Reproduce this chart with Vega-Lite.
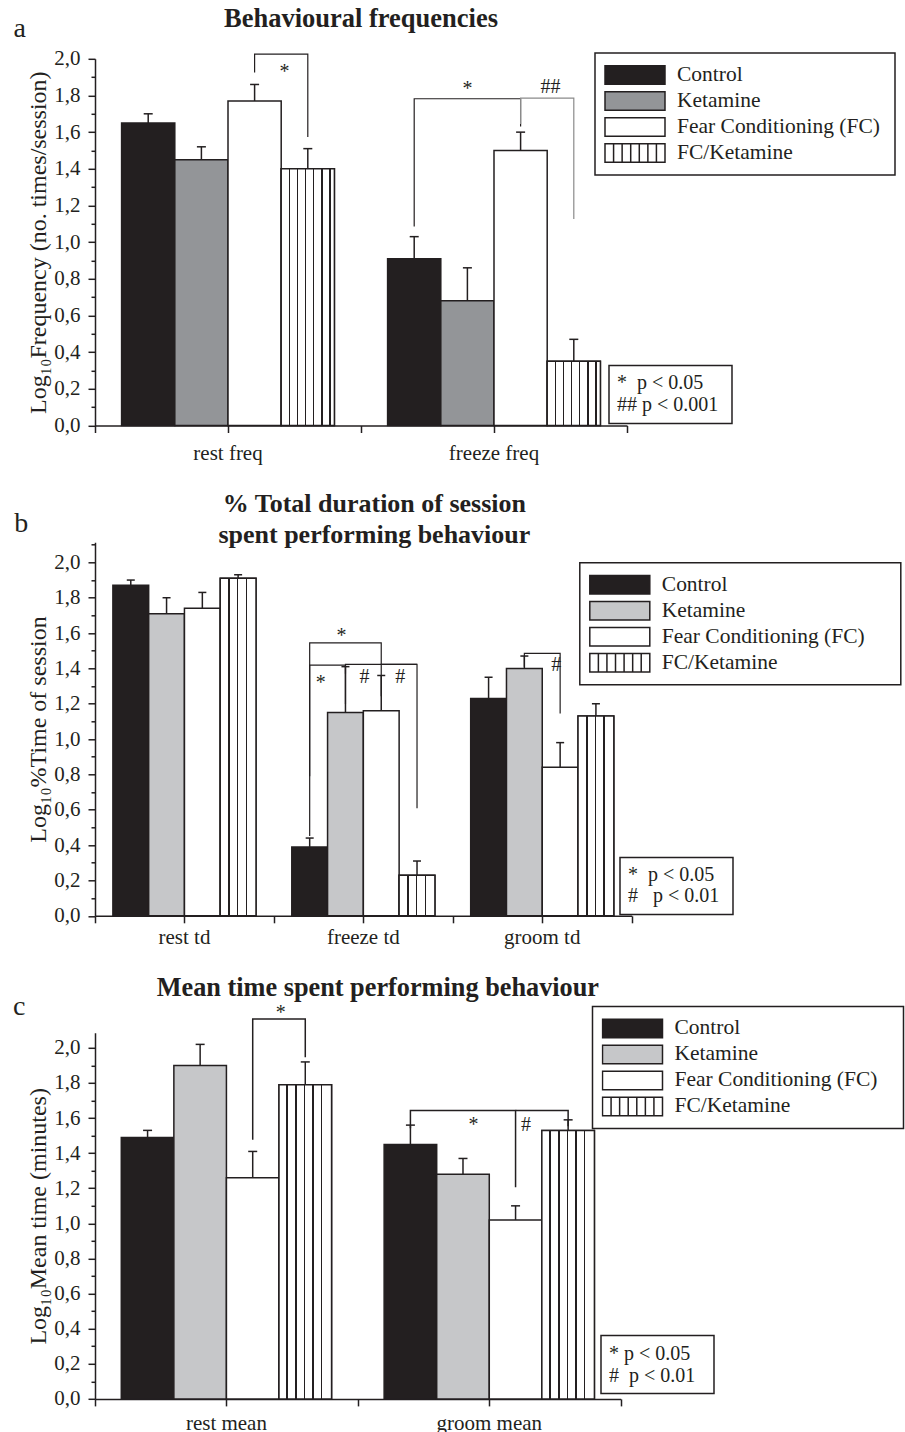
{
  "$schema": "https://vega.github.io/schema/vega-lite/v6.json",
  "background": "white",
  "padding": {"left": 12, "top": 5.8, "right": 0, "bottom": 0},
  "autosize": {"type": "pad"},
  "spacing": 116.5,
  "bounds": "flush",
  "config": {
    "font": "Liberation Serif",
    "view": {"stroke": null},
    "axis": {"grid": false, "domainColor": "#231f20", "domainWidth": 1.5, "tickColor": "#231f20", "tickWidth": 1.5, "labelFont": "Liberation Serif", "labelFontSize": 21, "labelColor": "#231f20", "titleFont": "Liberation Serif", "titleFontSize": 24, "titleFontWeight": "normal", "titleColor": "#231f20"},
    "legend": {"labelFont": "Liberation Serif", "labelColor": "#231f20", "strokeColor": "#231f20", "fillColor": "white", "direction": "vertical", "orient": "none", "labelLimit": 400},
    "title": {"font": "Liberation Serif", "fontWeight": "bold", "color": "#231f20", "anchor": "middle", "frame": "group"}
  },
  "datasets": {
    "barsA": [
      {"cat": "rest freq", "grp": "Control", "v": 1.65, "hi": 1.70},
      {"cat": "rest freq", "grp": "Ketamine", "v": 1.45, "hi": 1.52},
      {"cat": "rest freq", "grp": "Fear Conditioning (FC)", "v": 1.77, "hi": 1.86},
      {"cat": "rest freq", "grp": "FC/Ketamine", "v": 1.40, "hi": 1.51},
      {"cat": "freeze freq", "grp": "Control", "v": 0.91, "hi": 1.03},
      {"cat": "freeze freq", "grp": "Ketamine", "v": 0.68, "hi": 0.86},
      {"cat": "freeze freq", "grp": "Fear Conditioning (FC)", "v": 1.50, "hi": 1.60},
      {"cat": "freeze freq", "grp": "FC/Ketamine", "v": 0.35, "hi": 0.47}
    ],
    "barsB": [
      {"cat": "rest td", "grp": "Control", "v": 1.87, "hi": 1.90},
      {"cat": "rest td", "grp": "Ketamine", "v": 1.71, "hi": 1.80},
      {"cat": "rest td", "grp": "Fear Conditioning (FC)", "v": 1.74, "hi": 1.83},
      {"cat": "rest td", "grp": "FC/Ketamine", "v": 1.91, "hi": 1.93},
      {"cat": "freeze td", "grp": "Control", "v": 0.39, "hi": 0.44},
      {"cat": "freeze td", "grp": "Ketamine", "v": 1.15, "hi": 1.41},
      {"cat": "freeze td", "grp": "Fear Conditioning (FC)", "v": 1.16, "hi": 1.36},
      {"cat": "freeze td", "grp": "FC/Ketamine", "v": 0.23, "hi": 0.31},
      {"cat": "groom td", "grp": "Control", "v": 1.23, "hi": 1.35},
      {"cat": "groom td", "grp": "Ketamine", "v": 1.40, "hi": 1.47},
      {"cat": "groom td", "grp": "Fear Conditioning (FC)", "v": 0.84, "hi": 0.98},
      {"cat": "groom td", "grp": "FC/Ketamine", "v": 1.13, "hi": 1.20}
    ],
    "barsC": [
      {"cat": "rest mean", "grp": "Control", "v": 1.49, "hi": 1.53},
      {"cat": "rest mean", "grp": "Ketamine", "v": 1.90, "hi": 2.02},
      {"cat": "rest mean", "grp": "Fear Conditioning (FC)", "v": 1.26, "hi": 1.41},
      {"cat": "rest mean", "grp": "FC/Ketamine", "v": 1.79, "hi": 1.92},
      {"cat": "groom mean", "grp": "Control", "v": 1.45, "hi": 1.56},
      {"cat": "groom mean", "grp": "Ketamine", "v": 1.28, "hi": 1.37},
      {"cat": "groom mean", "grp": "Fear Conditioning (FC)", "v": 1.02, "hi": 1.10},
      {"cat": "groom mean", "grp": "FC/Ketamine", "v": 1.53, "hi": 1.59}
    ],
    "brA": [
      {"id": "A1", "s": 1, "cat": "rest freq", "grp": "Fear Conditioning (FC)", "y": 1.925, "sig": "*"},
      {"id": "A1", "s": 2, "cat": "rest freq", "grp": "Fear Conditioning (FC)", "y": 2.026, "sig": "*"},
      {"id": "A1", "s": 3, "cat": "rest freq", "grp": "FC/Ketamine", "y": 2.026, "sig": "*"},
      {"id": "A1", "s": 4, "cat": "rest freq", "grp": "FC/Ketamine", "y": 1.573, "sig": "*"},
      {"id": "A2", "s": 1, "cat": "freeze freq", "grp": "Control", "y": 1.085, "sig": "*"},
      {"id": "A2", "s": 2, "cat": "freeze freq", "grp": "Control", "y": 1.782, "sig": "*"},
      {"id": "A2", "s": 3, "cat": "freeze freq", "grp": "Fear Conditioning (FC)", "y": 1.782, "sig": "*"},
      {"id": "A2", "s": 4, "cat": "freeze freq", "grp": "Fear Conditioning (FC)", "y": 1.631, "sig": "*"},
      {"id": "A3", "s": 1, "cat": "freeze freq", "grp": "Fear Conditioning (FC)", "y": 1.645, "sig": "##"},
      {"id": "A3", "s": 2, "cat": "freeze freq", "grp": "Fear Conditioning (FC)", "y": 1.786, "sig": "##"},
      {"id": "A3", "s": 3, "cat": "freeze freq", "grp": "FC/Ketamine", "y": 1.786, "sig": "##"},
      {"id": "A3", "s": 4, "cat": "freeze freq", "grp": "FC/Ketamine", "y": 1.126, "sig": "##"}
    ],
    "brB": [
      {"id": "B1", "s": 1, "cat": "freeze td", "grp": "Control", "y": 0.79, "sig": "*"},
      {"id": "B1", "s": 2, "cat": "freeze td", "grp": "Control", "y": 1.545, "sig": "*"},
      {"id": "B1", "s": 3, "cat": "freeze td", "grp": "Fear Conditioning (FC)", "y": 1.545, "sig": "*"},
      {"id": "B1", "s": 4, "cat": "freeze td", "grp": "Fear Conditioning (FC)", "y": 1.419, "sig": "*"},
      {"id": "B2", "s": 1, "cat": "freeze td", "grp": "Control", "y": 0.451, "sig": "*"},
      {"id": "B2", "s": 2, "cat": "freeze td", "grp": "Control", "y": 1.419, "sig": "*"},
      {"id": "B2", "s": 3, "cat": "freeze td", "grp": "Ketamine", "y": 1.419, "sig": "*"},
      {"id": "B2", "s": 4, "cat": "freeze td", "grp": "Ketamine", "y": 1.198, "sig": "*"},
      {"id": "B3", "s": 1, "cat": "freeze td", "grp": "Ketamine", "y": 1.37, "sig": "#"},
      {"id": "B3", "s": 2, "cat": "freeze td", "grp": "Ketamine", "y": 1.423, "sig": "#"},
      {"id": "B3", "s": 3, "cat": "freeze td", "grp": "FC/Ketamine", "y": 1.423, "sig": "#"},
      {"id": "B3", "s": 4, "cat": "freeze td", "grp": "FC/Ketamine", "y": 0.608, "sig": "#"},
      {"id": "B4", "s": 1, "cat": "freeze td", "grp": "Fear Conditioning (FC)", "y": 1.243, "sig": "#"},
      {"id": "B4", "s": 2, "cat": "freeze td", "grp": "Fear Conditioning (FC)", "y": 1.423, "sig": "#"},
      {"id": "B4", "s": 3, "cat": "freeze td", "grp": "FC/Ketamine", "y": 1.423, "sig": "#"},
      {"id": "B5", "s": 1, "cat": "groom td", "grp": "Ketamine", "y": 1.41, "sig": "#"},
      {"id": "B5", "s": 2, "cat": "groom td", "grp": "Ketamine", "y": 1.485, "sig": "#"},
      {"id": "B5", "s": 3, "cat": "groom td", "grp": "Fear Conditioning (FC)", "y": 1.485, "sig": "#"},
      {"id": "B5", "s": 4, "cat": "groom td", "grp": "Fear Conditioning (FC)", "y": 1.145, "sig": "#"}
    ],
    "brC": [
      {"id": "C1", "s": 1, "cat": "rest mean", "grp": "Fear Conditioning (FC)", "y": 1.476, "sig": "*"},
      {"id": "C1", "s": 2, "cat": "rest mean", "grp": "Fear Conditioning (FC)", "y": 2.165, "sig": "*"},
      {"id": "C1", "s": 3, "cat": "rest mean", "grp": "FC/Ketamine", "y": 2.165, "sig": "*"},
      {"id": "C1", "s": 4, "cat": "rest mean", "grp": "FC/Ketamine", "y": 1.946, "sig": "*"},
      {"id": "C2", "s": 1, "cat": "groom mean", "grp": "Control", "y": 1.542, "sig": "*"},
      {"id": "C2", "s": 2, "cat": "groom mean", "grp": "Control", "y": 1.643, "sig": "*"},
      {"id": "C2", "s": 3, "cat": "groom mean", "grp": "Fear Conditioning (FC)", "y": 1.643, "sig": "*"},
      {"id": "C2", "s": 4, "cat": "groom mean", "grp": "Fear Conditioning (FC)", "y": 1.206, "sig": "*"},
      {"id": "C3", "s": 1, "cat": "groom mean", "grp": "Fear Conditioning (FC)", "y": 1.643, "sig": "#"},
      {"id": "C3", "s": 2, "cat": "groom mean", "grp": "FC/Ketamine", "y": 1.643, "sig": "#"},
      {"id": "C3", "s": 3, "cat": "groom mean", "grp": "FC/Ketamine", "y": 1.553, "sig": "#"}
    ]
  },
  "resolve": {
    "scale": {"x": "independent", "y": "independent", "xOffset": "independent", "fill": "independent", "stroke": "independent"},
    "legend": {"fill": "independent", "stroke": "independent"},
    "axis": {"x": "independent", "y": "independent"}
  },
  "vconcat": [
    {
      "width": 532, "height": 366.7,
      "title": {"text": "Behavioural frequencies", "fontSize": 26.5, "baseline": "alphabetic", "offset": -39.4},
      "resolve": {"axis": {"x": "independent", "y": "independent"}},
      "layer": [
        {
          "data": {"name": "barsA"},
          "mark": {"type": "bar", "stroke": "#231f20", "strokeWidth": 1.5},
          "encoding": {
            "x": {"field": "cat", "type": "nominal", "scale": {"domain": ["rest freq", "freeze freq"], "paddingInner": 0, "paddingOuter": 0}, "axis": {"orient": "bottom", "title": null, "labelAngle": 0, "tickSize": 7, "labelPadding": 10}},
            "xOffset": {"field": "grp", "type": "nominal", "scale": {"domain": ["Control", "Ketamine", "Fear Conditioning (FC)", "FC/Ketamine"], "paddingInner": 0, "paddingOuter": 0.5}},
            "y": {"field": "v", "type": "quantitative", "scale": {"domain": [0, 2], "nice": false}, "axis": {"orient": "left", "title": "Log₁₀Frequency (no. times/session)", "values": [0, 0.2, 0.4, 0.6, 0.8, 1, 1.2, 1.4, 1.6, 1.8, 2], "labelExpr": "replace(format(datum.value, '.1f'), '.', ',')", "tickSize": 7, "labelPadding": 8, "titlePadding": 3}},
            "fill": {"field": "grp", "type": "nominal", "scale": {"domain": ["Control", "Ketamine", "Fear Conditioning (FC)", "FC/Ketamine"], "range": ["#231f20", "#939598", "white", "white"]},
              "legend": {"title": null, "legendX": 500, "legendY": -5.7, "padding": 9, "clipHeight": 25.9, "rowPadding": 0, "symbolType": "M-1,-0.31H1V0.31H-1Z", "symbolSize": 3600, "symbolStrokeColor": "#231f20", "symbolStrokeWidth": 1.5, "symbolOpacity": 1, "labelFontSize": 21.5, "labelOffset": 11, "labelExpr": "datum.label + '\u00a0\u200b'",
                "encode": {"symbols": {"update": {"shape": {"signal": "datum.value === 'FC/Ketamine' ? 'M-1,-0.31H1V0.31H-1ZM-0.714,-0.31V0.31M-0.429,-0.31V0.31M-0.143,-0.31V0.31M0.143,-0.31V0.31M0.429,-0.31V0.31M0.714,-0.31V0.31' : 'M-1,-0.31H1V0.31H-1Z'"}}}, "legend": {"update": {"strokeWidth": {"value": 1.5}}}}}}
          }
        },
        {
          "data": {"name": "barsA"},
          "transform": [{"filter": "datum.grp === 'FC/Ketamine'"}],
          "mark": {"type": "bar", "stroke": "#231f20", "strokeWidth": 1.5, "fill": {"gradient": "linear", "x1": 0, "y1": 0, "x2": 1, "y2": 0, "stops": [
            {"offset": 0, "color": "white"},
            {"offset": 0.140, "color": "white"}, {"offset": 0.140, "color": "#231f20"}, {"offset": 0.166, "color": "#231f20"}, {"offset": 0.166, "color": "white"},
            {"offset": 0.293, "color": "white"}, {"offset": 0.293, "color": "#231f20"}, {"offset": 0.319, "color": "#231f20"}, {"offset": 0.319, "color": "white"},
            {"offset": 0.446, "color": "white"}, {"offset": 0.446, "color": "#231f20"}, {"offset": 0.472, "color": "#231f20"}, {"offset": 0.472, "color": "white"},
            {"offset": 0.599, "color": "white"}, {"offset": 0.599, "color": "#231f20"}, {"offset": 0.625, "color": "#231f20"}, {"offset": 0.625, "color": "white"},
            {"offset": 0.752, "color": "white"}, {"offset": 0.752, "color": "#231f20"}, {"offset": 0.778, "color": "#231f20"}, {"offset": 0.778, "color": "white"},
            {"offset": 0.905, "color": "white"}, {"offset": 0.905, "color": "#231f20"}, {"offset": 0.931, "color": "#231f20"}, {"offset": 0.931, "color": "white"},
            {"offset": 1, "color": "white"}]}},
          "encoding": {
            "x": {"field": "cat", "type": "nominal", "axis": null},
            "xOffset": {"field": "grp", "type": "nominal"},
            "y": {"field": "v", "type": "quantitative", "axis": null}
          }
        },
        {
          "data": {"name": "barsA"},
          "mark": {"type": "rule", "stroke": "#231f20", "strokeWidth": 1.5},
          "encoding": {
            "x": {"field": "cat", "type": "nominal", "axis": {"orient": "bottom", "tickBand": "extent", "labels": false, "domain": false, "tickSize": 7, "title": null}},
            "xOffset": {"field": "grp", "type": "nominal"},
            "y": {"field": "v", "type": "quantitative", "axis": {"orient": "left", "values": [0.1, 0.3, 0.5, 0.7, 0.9, 1.1, 1.3, 1.5, 1.7, 1.9], "labels": false, "domain": false, "tickSize": 4, "title": "a", "titleAngle": 0, "titleX": -82, "titleY": -22.3, "titleAlign": "left", "titleBaseline": "alphabetic", "titleFontSize": 28}},
            "y2": {"field": "hi"}
          }
        },
        {
          "data": {"name": "barsA"},
          "mark": {"type": "tick", "orient": "horizontal", "size": 9, "thickness": 1.5, "color": "#231f20", "opacity": 1},
          "encoding": {
            "x": {"field": "cat", "type": "nominal", "axis": null},
            "xOffset": {"field": "grp", "type": "nominal"},
            "y": {"field": "hi", "type": "quantitative", "axis": null}
          }
        },
        {
          "data": {"name": "brA"},
          "mark": {"type": "line", "strokeWidth": 1.2},
          "encoding": {
            "x": {"field": "cat", "type": "nominal", "axis": null},
            "xOffset": {"field": "grp", "type": "nominal"},
            "y": {"field": "y", "type": "quantitative", "axis": null},
            "detail": {"field": "id"},
            "order": {"field": "s", "type": "quantitative"},
            "stroke": {"field": "sig", "type": "nominal", "scale": {"domain": ["*", "##"], "range": ["#231f20", "#8a8a8a"]},
              "legend": {"title": null, "legendX": 514, "legendY": 306.7, "padding": 8, "symbolOpacity": 0, "symbolSize": 0, "symbolStrokeWidth": 0, "labelFontSize": 20, "labelOffset": -20, "rowPadding": 2, "labelExpr": "datum.value === '*' ? '\u00a0*\u00a0\u00a0p < 0.05\u200b' : '##\u00a0p < 0.001\u00a0\u200b'", "encode": {"legend": {"update": {"strokeWidth": {"value": 1.5}}}}}}
          }
        },
        {
          "data": {"values": [{"cat": "freeze freq", "grp": "Ketamine", "y": 1.80, "t": "*"}]},
          "mark": {"type": "text", "dx": 0, "fontSize": 20, "baseline": "alphabetic", "align": "center", "color": "#231f20"},
          "encoding": {
            "x": {"field": "cat", "type": "nominal", "axis": null},
            "xOffset": {"field": "grp", "type": "nominal"},
            "y": {"field": "y", "type": "quantitative", "axis": null},
            "text": {"field": "t"}
          }
        },
        {
          "data": {"values": [{"cat": "rest freq", "grp": "Fear Conditioning (FC)", "y": 1.898, "t": "*"}, {"cat": "freeze freq", "grp": "Fear Conditioning (FC)", "y": 1.816, "t": "##"}]},
          "mark": {"type": "text", "dx": 30, "fontSize": 20, "baseline": "alphabetic", "align": "center", "color": "#231f20"},
          "encoding": {
            "x": {"field": "cat", "type": "nominal", "axis": null},
            "xOffset": {"field": "grp", "type": "nominal"},
            "y": {"field": "y", "type": "quantitative", "axis": null},
            "text": {"field": "t"}
          }
        }
      ]
    },
    {
      "width": 536.7, "height": 373.5,
      "title": {"text": ["% Total duration of session", "spent performing behaviour"], "fontSize": 26, "lineHeight": 31.6, "baseline": "alphabetic", "offset": -59.4, "dx": 11},
      "resolve": {"axis": {"x": "independent", "y": "independent"}},
      "layer": [
        {
          "data": {"name": "barsB"},
          "mark": {"type": "bar", "stroke": "#231f20", "strokeWidth": 1.5},
          "encoding": {
            "x": {"field": "cat", "type": "nominal", "scale": {"domain": ["rest td", "freeze td", "groom td"], "paddingInner": 0, "paddingOuter": 0}, "axis": {"orient": "bottom", "title": null, "labelAngle": 0, "tickSize": 7, "labelPadding": 3.6}},
            "xOffset": {"field": "grp", "type": "nominal", "scale": {"domain": ["Control", "Ketamine", "Fear Conditioning (FC)", "FC/Ketamine"], "paddingInner": 0, "paddingOuter": 0.5}},
            "y": {"field": "v", "type": "quantitative", "scale": {"domain": [0, 2.1137], "nice": false}, "axis": {"orient": "left", "title": "Log₁₀%Time of session", "values": [0, 0.2, 0.4, 0.6, 0.8, 1, 1.2, 1.4, 1.6, 1.8, 2], "labelExpr": "replace(format(datum.value, '.1f'), '.', ',')", "tickSize": 7, "labelPadding": 8, "titlePadding": 3}},
            "fill": {"field": "grp", "type": "nominal", "scale": {"domain": ["Control", "Ketamine", "Fear Conditioning (FC)", "FC/Ketamine"], "range": ["#231f20", "#c6c7c9", "white", "white"]},
              "legend": {"title": null, "legendX": 484.8, "legendY": 20.5, "padding": 9, "clipHeight": 26, "rowPadding": 0, "symbolType": "M-1,-0.31H1V0.31H-1Z", "symbolSize": 3600, "symbolStrokeColor": "#231f20", "symbolStrokeWidth": 1.5, "symbolOpacity": 1, "labelFontSize": 21.5, "labelOffset": 11, "labelExpr": "datum.label + '\u00a0\u00a0\u00a0\u00a0\u00a0\u200b'",
                "encode": {"symbols": {"update": {"shape": {"signal": "datum.value === 'FC/Ketamine' ? 'M-1,-0.31H1V0.31H-1ZM-0.714,-0.31V0.31M-0.429,-0.31V0.31M-0.143,-0.31V0.31M0.143,-0.31V0.31M0.429,-0.31V0.31M0.714,-0.31V0.31' : 'M-1,-0.31H1V0.31H-1Z'"}}}, "legend": {"update": {"strokeWidth": {"value": 1.5}}}}}}
          }
        },
        {
          "data": {"name": "barsB"},
          "transform": [{"filter": "datum.grp === 'FC/Ketamine'"}],
          "mark": {"type": "bar", "stroke": "#231f20", "strokeWidth": 1.5, "fill": {"gradient": "linear", "x1": 0, "y1": 0, "x2": 1, "y2": 0, "stops": [
            {"offset": 0, "color": "white"},
            {"offset": 0.225, "color": "white"}, {"offset": 0.225, "color": "#231f20"}, {"offset": 0.265, "color": "#231f20"}, {"offset": 0.265, "color": "white"},
            {"offset": 0.465, "color": "white"}, {"offset": 0.465, "color": "#231f20"}, {"offset": 0.505, "color": "#231f20"}, {"offset": 0.505, "color": "white"},
            {"offset": 0.71, "color": "white"}, {"offset": 0.71, "color": "#231f20"}, {"offset": 0.75, "color": "#231f20"}, {"offset": 0.75, "color": "white"},
            {"offset": 1, "color": "white"}]}},
          "encoding": {
            "x": {"field": "cat", "type": "nominal", "axis": null},
            "xOffset": {"field": "grp", "type": "nominal"},
            "y": {"field": "v", "type": "quantitative", "axis": null}
          }
        },
        {
          "data": {"name": "barsB"},
          "mark": {"type": "rule", "stroke": "#231f20", "strokeWidth": 1.5},
          "encoding": {
            "x": {"field": "cat", "type": "nominal", "axis": {"orient": "bottom", "tickBand": "extent", "labels": false, "domain": false, "tickSize": 7, "title": null}},
            "xOffset": {"field": "grp", "type": "nominal"},
            "y": {"field": "v", "type": "quantitative", "axis": {"orient": "left", "values": [0.1, 0.3, 0.5, 0.7, 0.9, 1.1, 1.3, 1.5, 1.7, 1.9, 2.1], "labels": false, "domain": false, "tickSize": 4, "title": "b", "titleAngle": 0, "titleX": -81.3, "titleY": -10.5, "titleAlign": "left", "titleBaseline": "alphabetic", "titleFontSize": 28}},
            "y2": {"field": "hi"}
          }
        },
        {
          "data": {"name": "barsB"},
          "mark": {"type": "tick", "orient": "horizontal", "size": 8, "thickness": 1.5, "color": "#231f20", "opacity": 1},
          "encoding": {
            "x": {"field": "cat", "type": "nominal", "axis": null},
            "xOffset": {"field": "grp", "type": "nominal"},
            "y": {"field": "hi", "type": "quantitative", "axis": null}
          }
        },
        {
          "data": {"name": "brB"},
          "mark": {"type": "line", "strokeWidth": 1.2},
          "encoding": {
            "x": {"field": "cat", "type": "nominal", "axis": null},
            "xOffset": {"field": "grp", "type": "nominal"},
            "y": {"field": "y", "type": "quantitative", "axis": null},
            "detail": {"field": "id"},
            "order": {"field": "s", "type": "quantitative"},
            "stroke": {"field": "sig", "type": "nominal", "scale": {"domain": ["*", "#"], "range": ["#231f20", "#231f20"]},
              "legend": {"title": null, "legendX": 525, "legendY": 315.1, "padding": 8, "symbolOpacity": 0, "symbolSize": 0, "symbolStrokeWidth": 0, "labelFontSize": 20, "labelOffset": -20, "rowPadding": 1, "labelExpr": "datum.value === '*' ? '\u00a0*\u00a0\u00a0p < 0.05\u00a0\u200b' : '#\u00a0\u00a0\u00a0p < 0.01\u00a0\u200b'", "encode": {"legend": {"update": {"strokeWidth": {"value": 1.5}}}}}}
          }
        },
        {
          "data": {"values": [{"cat": "freeze td", "grp": "Ketamine", "y": 1.549, "t": "*"}, {"cat": "groom td", "grp": "Fear Conditioning (FC)", "y": 1.385, "t": "#"}]},
          "mark": {"type": "text", "dx": -4, "fontSize": 20, "baseline": "alphabetic", "align": "center", "color": "#231f20"},
          "encoding": {
            "x": {"field": "cat", "type": "nominal", "axis": null},
            "xOffset": {"field": "grp", "type": "nominal"},
            "y": {"field": "y", "type": "quantitative", "axis": null},
            "text": {"field": "t"}
          }
        },
        {
          "data": {"values": [{"cat": "freeze td", "grp": "Control", "y": 1.285, "t": "*"}]},
          "mark": {"type": "text", "dx": 11, "fontSize": 20, "baseline": "alphabetic", "align": "center", "color": "#231f20"},
          "encoding": {
            "x": {"field": "cat", "type": "nominal", "axis": null},
            "xOffset": {"field": "grp", "type": "nominal"},
            "y": {"field": "y", "type": "quantitative", "axis": null},
            "text": {"field": "t"}
          }
        },
        {
          "data": {"values": [{"cat": "freeze td", "grp": "Ketamine", "y": 1.318, "t": "#"}, {"cat": "freeze td", "grp": "Fear Conditioning (FC)", "y": 1.318, "t": "#"}]},
          "mark": {"type": "text", "dx": 19, "fontSize": 20, "baseline": "alphabetic", "align": "center", "color": "#231f20"},
          "encoding": {
            "x": {"field": "cat", "type": "nominal", "axis": null},
            "xOffset": {"field": "grp", "type": "nominal"},
            "y": {"field": "y", "type": "quantitative", "axis": null},
            "text": {"field": "t"}
          }
        }
      ]
    },
    {
      "width": 525.7, "height": 366.1,
      "title": {"text": "Mean time spent performing behaviour", "fontSize": 26.3, "baseline": "alphabetic", "offset": -29.95, "dx": 20},
      "resolve": {"axis": {"x": "independent", "y": "independent"}},
      "layer": [
        {
          "data": {"name": "barsC"},
          "mark": {"type": "bar", "stroke": "#231f20", "strokeWidth": 1.5},
          "encoding": {
            "x": {"field": "cat", "type": "nominal", "scale": {"domain": ["rest mean", "groom mean"], "paddingInner": 0, "paddingOuter": 0}, "axis": {"orient": "bottom", "title": null, "labelAngle": 0, "tickSize": 7, "labelPadding": 6.4}},
            "xOffset": {"field": "grp", "type": "nominal", "scale": {"domain": ["Control", "Ketamine", "Fear Conditioning (FC)", "FC/Ketamine"], "paddingInner": 0, "paddingOuter": 0.5}},
            "y": {"field": "v", "type": "quantitative", "scale": {"domain": [0, 2.086], "nice": false}, "axis": {"orient": "left", "title": "Log₁₀Mean time (minutes)", "values": [0, 0.2, 0.4, 0.6, 0.8, 1, 1.2, 1.4, 1.6, 1.8, 2], "labelExpr": "replace(format(datum.value, '.1f'), '.', ',')", "tickSize": 7, "labelPadding": 8, "titlePadding": 3}},
            "fill": {"field": "grp", "type": "nominal", "scale": {"domain": ["Control", "Ketamine", "Fear Conditioning (FC)", "FC/Ketamine"], "range": ["#231f20", "#c6c7c9", "white", "white"]},
              "legend": {"title": null, "legendX": 497.5, "legendY": -26.2, "padding": 9, "clipHeight": 25.7, "rowPadding": 0, "symbolType": "M-1,-0.31H1V0.31H-1Z", "symbolSize": 3600, "symbolStrokeColor": "#231f20", "symbolStrokeWidth": 1.5, "symbolOpacity": 1, "labelFontSize": 21.5, "labelOffset": 11, "labelExpr": "datum.label + '\u00a0\u00a0\u00a0\u200b'",
                "encode": {"symbols": {"update": {"shape": {"signal": "datum.value === 'FC/Ketamine' ? 'M-1,-0.31H1V0.31H-1ZM-0.714,-0.31V0.31M-0.429,-0.31V0.31M-0.143,-0.31V0.31M0.143,-0.31V0.31M0.429,-0.31V0.31M0.714,-0.31V0.31' : 'M-1,-0.31H1V0.31H-1Z'"}}}, "legend": {"update": {"strokeWidth": {"value": 1.5}}}}}}
          }
        },
        {
          "data": {"name": "barsC"},
          "transform": [{"filter": "datum.grp === 'FC/Ketamine'"}],
          "mark": {"type": "bar", "stroke": "#231f20", "strokeWidth": 1.5, "fill": {"gradient": "linear", "x1": 0, "y1": 0, "x2": 1, "y2": 0, "stops": [
            {"offset": 0, "color": "white"},
            {"offset": 0.141, "color": "white"}, {"offset": 0.141, "color": "#231f20"}, {"offset": 0.167, "color": "#231f20"}, {"offset": 0.167, "color": "white"},
            {"offset": 0.312, "color": "white"}, {"offset": 0.312, "color": "#231f20"}, {"offset": 0.338, "color": "#231f20"}, {"offset": 0.338, "color": "white"},
            {"offset": 0.477, "color": "white"}, {"offset": 0.477, "color": "#231f20"}, {"offset": 0.503, "color": "#231f20"}, {"offset": 0.503, "color": "white"},
            {"offset": 0.635, "color": "white"}, {"offset": 0.635, "color": "#231f20"}, {"offset": 0.661, "color": "#231f20"}, {"offset": 0.661, "color": "white"},
            {"offset": 0.795, "color": "white"}, {"offset": 0.795, "color": "#231f20"}, {"offset": 0.821, "color": "#231f20"}, {"offset": 0.821, "color": "white"},
            {"offset": 1, "color": "white"}]}},
          "encoding": {
            "x": {"field": "cat", "type": "nominal", "axis": null},
            "xOffset": {"field": "grp", "type": "nominal"},
            "y": {"field": "v", "type": "quantitative", "axis": null}
          }
        },
        {
          "data": {"name": "barsC"},
          "mark": {"type": "rule", "stroke": "#231f20", "strokeWidth": 1.5},
          "encoding": {
            "x": {"field": "cat", "type": "nominal", "axis": {"orient": "bottom", "tickBand": "extent", "labels": false, "domain": false, "tickSize": 7, "title": null}},
            "xOffset": {"field": "grp", "type": "nominal"},
            "y": {"field": "v", "type": "quantitative", "axis": {"orient": "left", "values": [0.1, 0.3, 0.5, 0.7, 0.9, 1.1, 1.3, 1.5, 1.7, 1.9], "labels": false, "domain": false, "tickSize": 4, "title": "c", "titleAngle": 0, "titleX": -82.5, "titleY": -18.2, "titleAlign": "left", "titleBaseline": "alphabetic", "titleFontSize": 28}},
            "y2": {"field": "hi"}
          }
        },
        {
          "data": {"name": "barsC"},
          "mark": {"type": "tick", "orient": "horizontal", "size": 9, "thickness": 1.5, "color": "#231f20", "opacity": 1},
          "encoding": {
            "x": {"field": "cat", "type": "nominal", "axis": null},
            "xOffset": {"field": "grp", "type": "nominal"},
            "y": {"field": "hi", "type": "quantitative", "axis": null}
          }
        },
        {
          "data": {"name": "brC"},
          "mark": {"type": "line", "strokeWidth": 1.5},
          "encoding": {
            "x": {"field": "cat", "type": "nominal", "axis": null},
            "xOffset": {"field": "grp", "type": "nominal"},
            "y": {"field": "y", "type": "quantitative", "axis": null},
            "detail": {"field": "id"},
            "order": {"field": "s", "type": "quantitative"},
            "stroke": {"field": "sig", "type": "nominal", "scale": {"domain": ["*", "#"], "range": ["#231f20", "#231f20"]},
              "legend": {"title": null, "legendX": 506, "legendY": 302.8, "padding": 8, "symbolOpacity": 0, "symbolSize": 0, "symbolStrokeWidth": 0, "labelFontSize": 20, "labelOffset": -20, "rowPadding": 2, "labelExpr": "datum.value === '*' ? '\u00a0*\u00a0p < 0.05\u00a0\u00a0\u200b' : '#\u00a0\u00a0p < 0.01\u00a0\u00a0\u200b'", "encode": {"legend": {"update": {"strokeWidth": {"value": 1.5}}}}}}
          }
        },
        {
          "data": {"values": [{"cat": "rest mean", "grp": "Fear Conditioning (FC)", "y": 2.163, "t": "*"}]},
          "mark": {"type": "text", "dx": 28, "fontSize": 20, "baseline": "alphabetic", "align": "center", "color": "#231f20"},
          "encoding": {
            "x": {"field": "cat", "type": "nominal", "axis": null},
            "xOffset": {"field": "grp", "type": "nominal"},
            "y": {"field": "y", "type": "quantitative", "axis": null},
            "text": {"field": "t"}
          }
        },
        {
          "data": {"values": [{"cat": "groom mean", "grp": "Ketamine", "y": 1.529, "t": "*"}, {"cat": "groom mean", "grp": "Fear Conditioning (FC)", "y": 1.529, "t": "#"}]},
          "mark": {"type": "text", "dx": 10.5, "fontSize": 20, "baseline": "alphabetic", "align": "center", "color": "#231f20"},
          "encoding": {
            "x": {"field": "cat", "type": "nominal", "axis": null},
            "xOffset": {"field": "grp", "type": "nominal"},
            "y": {"field": "y", "type": "quantitative", "axis": null},
            "text": {"field": "t"}
          }
        }
      ]
    }
  ]
}
